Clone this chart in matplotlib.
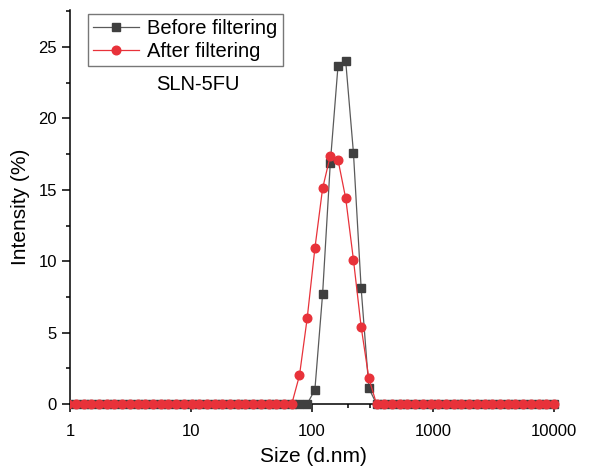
import matplotlib
matplotlib.use("Agg")
import matplotlib.pyplot as plt
from matplotlib.patches import Rectangle
from matplotlib.ticker import LogLocator, NullFormatter, FixedLocator, MultipleLocator
import numpy as np

plt.rcParams['font.family'] = ['Liberation Sans', 'DejaVu Sans']

# Malvern size bins (d.nm)
size_bins = [0.4, 0.4632, 0.5365, 0.6213, 0.7195, 0.8332, 0.9649, 1.117, 1.294, 1.499,
             1.736, 2.01, 2.328, 2.696, 3.122, 3.615, 4.187, 4.849, 5.615, 6.503,
             7.531, 8.721, 10.1, 11.7, 13.54, 15.69, 18.17, 21.04, 24.36, 28.21,
             32.67, 37.84, 43.82, 50.75, 58.77, 68.06, 78.82, 91.28, 105.7, 122.4,
             141.8, 164.2, 190.1, 220.2, 255.0, 295.3, 342.0, 396.1, 458.7, 531.2,
             615.1, 712.4, 825.0, 955.4, 1106, 1281, 1484, 1718, 1990, 2305,
             2669, 3091, 3580, 4145, 4801, 5560, 6439, 7456, 8635, 10000]

# Non-zero intensities (%)
before_peak = {105.7: 1.0, 122.4: 7.7, 141.8: 16.9, 164.2: 23.7, 190.1: 24.0,
               220.2: 17.6, 255.0: 8.1, 295.3: 1.1}
after_peak = {78.82: 2.0, 91.28: 6.0, 105.7: 10.9, 122.4: 15.1, 141.8: 17.4,
              164.2: 17.1, 190.1: 14.4, 220.2: 10.1, 255.0: 5.4, 295.3: 1.8}

before_filtering = [before_peak.get(s, 0.0) for s in size_bins]
after_filtering = [after_peak.get(s, 0.0) for s in size_bins]

x_ticks = [1, 10, 100, 1000, 10000]
x_ticklabels = ["1", "10", "100", "1000", "10000"]
y_ticks = [0, 5, 10, 15, 20, 25]

W, H = 590, 466
fig = plt.figure(figsize=(W / 100, H / 100), dpi=100)
ax = fig.add_axes([70 / W, 1 - 404 / H, 487 / W, 394 / H])

gray_line = "#5a5a5a"
gray_mark = "#3f3f3f"
red = "#e8323a"

l1, = ax.plot(size_bins, before_filtering, color=gray_line, lw=0.9, marker='s', ms=5.4,
              mfc=gray_mark, mec=gray_mark, label="Before filtering", zorder=3)
l2, = ax.plot(size_bins, after_filtering, color=red, lw=0.9, marker='o', ms=6.2,
              mfc=red, mec=red, label="After filtering", zorder=4)

clip = Rectangle((0, -0.05), 1.02, 1.1, transform=ax.transAxes, fill=False, visible=False)
ax.add_patch(clip)
for ln in (l1, l2):
    ln.set_clip_path(clip)

ax.set_xscale('log')
ax.set_xlim(1, 10600)
ax.set_ylim(0, 27.6)

ax.xaxis.set_major_locator(FixedLocator(x_ticks))
ax.set_xticklabels(x_ticklabels)
ax.xaxis.set_minor_locator(LogLocator(base=10, subs=np.arange(2, 10)))
ax.xaxis.set_minor_formatter(NullFormatter())
ax.yaxis.set_major_locator(FixedLocator(y_ticks))
ax.yaxis.set_minor_locator(MultipleLocator(2.5))

for side in ('top', 'right'):
    ax.spines[side].set_visible(False)
for side in ('left', 'bottom'):
    ax.spines[side].set_linewidth(1.1)
    ax.spines[side].set_color('black')

ax.tick_params(which='major', direction='out', length=5.5, width=1.1, labelsize=12, colors='black')
ax.tick_params(which='minor', direction='out', length=3, width=1.1)
ax.tick_params(axis='x', which='major', pad=9)
ax.tick_params(axis='y', which='major', pad=4)

ax.set_xlabel("Size (d.nm)", fontsize=15, labelpad=6)
ax.set_ylabel("Intensity (%)", fontsize=15, labelpad=6)

leg = ax.legend(loc='upper left', bbox_to_anchor=(14 / 487, 1.0), fontsize=14.5,
                frameon=True, fancybox=False, edgecolor='#777777', framealpha=1,
                handlelength=2.3, handletextpad=0.4, borderpad=0.25, labelspacing=0.18,
                borderaxespad=0.2)
leg.get_frame().set_linewidth(1.0)

ax.text(198 / W, 1 - 84 / H, "SLN-5FU", transform=fig.transFigure, fontsize=14.5,
        ha='center', va='center')

fig.savefig("out.png", dpi=100)
